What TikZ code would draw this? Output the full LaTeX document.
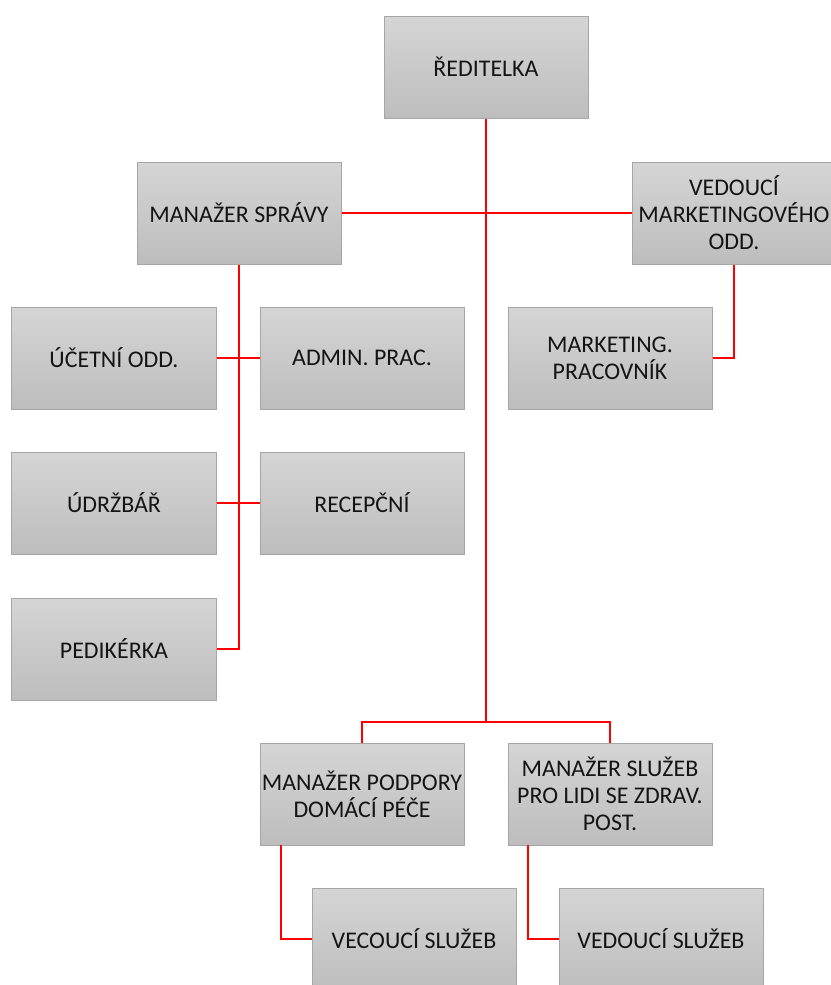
\documentclass[tikz,border=0pt]{standalone}
\usepackage{fontspec}
\setmainfont{Carlito}
\begin{document}
\begin{tikzpicture}[x=1bp,y=-1bp,
  box/.style={rectangle, draw=boxline, line width=1bp, top color=boxtop, bottom color=boxbot,
    minimum width=204bp, minimum height=102bp, inner sep=0pt, align=center,
    font=\fontsize{24}{27}\selectfont, text=black!92},
  link/.style={draw=red, line width=2.5bp}]
\definecolor{boxtop}{HTML}{D5D5D5}
\definecolor{boxbot}{HTML}{BDBDBD}
\definecolor{boxline}{HTML}{A6A6A6}
\useasboundingbox (0,0) rectangle (831,985);
\clip (0,0) rectangle (831,985);
\fill[white] (0,0) rectangle (831,985);
% nodes
\node[box] (red) at (486,67) {ŘEDITELKA};
\node[box] (ms) at (239,213) {MANAŽER SPRÁVY};
\node[box] (vm) at (734,213) {VEDOUCÍ\\MARKETINGOVÉHO\\ODD.};
\node[box] (uc) at (114,358) {ÚČETNÍ ODD.};
\node[box] (ad) at (362,358) {ADMIN. PRAC.};
\node[box] (mp) at (610,358) {MARKETING.\\PRACOVNÍK};
\node[box] (ud) at (114,503) {ÚDRŽBÁŘ};
\node[box] (rc) at (362,503) {RECEPČNÍ};
\node[box] (pd) at (114,649) {PEDIKÉRKA};
\node[box] (mpd) at (362,794) {MANAŽER PODPORY\\DOMÁCÍ PÉČE};
\node[box] (mzs) at (610,794) {MANAŽER SLUŽEB\\PRO LIDI SE ZDRAV.\\POST.};
\node[box] (vs1) at (414,939) {VECOUCÍ SLUŽEB};
\node[box] (vs2) at (661,939) {VEDOUCÍ SLUŽEB};
\coordinate (j) at (486,722);
\coordinate (a1) at (281,845);
\coordinate (a2) at (528,845);
% connectors
\draw[link] (red.south) -- (j);
\draw[link] (mpd.north) |- (j) -| (mzs.north);
\draw[link] (ms.east) -- (vm.west);
\draw[link] (ms.south) |- (pd.east);
\draw[link] (uc.east) -- (ad.west);
\draw[link] (ud.east) -- (rc.west);
\draw[link] (vm.south) |- (mp.east);
\draw[link] (a1) |- (vs1.west);
\draw[link] (a2) |- (vs2.west);
\end{tikzpicture}
\end{document}
